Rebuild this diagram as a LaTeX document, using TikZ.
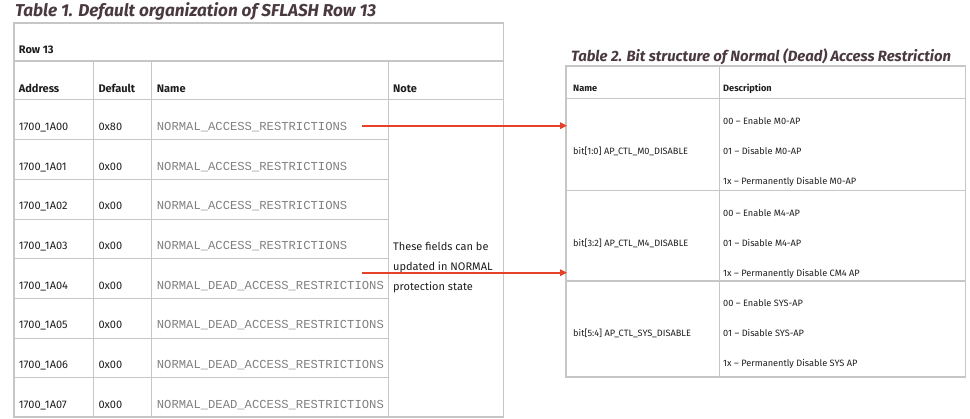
\documentclass[tikz,border=0pt]{standalone}
\usepackage{fontspec}
\setmainfont{Fira Sans}
\newfontfamily\regfont{Liberation Mono}
\usetikzlibrary{arrows.meta}

\definecolor{gridgray}{HTML}{C6C6C6}
\definecolor{titlecol}{HTML}{4A3A40}
\definecolor{arrowred}{HTML}{E5412B}
\definecolor{reggray}{HTML}{808080}
\definecolor{cellink}{HTML}{1E1E1E}

\tikzset{
  gridline/.style={draw=gridgray, line width=1.1pt},
  tabtitle/.style={anchor=base west, inner sep=0pt, text=titlecol},
  cell/.style={anchor=base west, inner sep=0pt, text=cellink, font=\fontsize{11}{13}\selectfont},
  headcell/.style={cell, font=\fontsize{11}{13}\selectfont\bfseries},
  regcell/.style={anchor=base west, inner sep=0pt, text=reggray, font=\fontsize{12.2}{14}\regfont},
  bitcell/.style={anchor=base west, inner sep=0pt, text=cellink, font=\fontsize{9.2}{11}\selectfont},
  bithead/.style={bitcell, font=\fontsize{9.2}{11}\selectfont\bfseries},
  redarrow/.style={draw=arrowred, line width=1.7pt, -{Triangle[length=7pt,width=6.5pt]}}
}

\begin{document}
\begin{tikzpicture}[x=1pt,y=-1pt]
  \useasboundingbox (0,0) rectangle (970,419);

  % Table 1
  \node[tabtitle, font=\fontsize{17.2}{20}\selectfont\bfseries\itshape] (titleA) at (15,16.7)
      {Table 1. Default organization of SFLASH Row 13};

  \draw[gridline] (14,23) rectangle (503.3,417);
  \draw[gridline] (14,61) -- (503.3,61);
  \draw[gridline] (14,99.5) -- (503.3,99.5);
  \foreach \y in {139.3,179.3,219.3,258.7,298.3,338.3,377.3}
    \draw[gridline] (14,\y) -- (388.3,\y);
  \foreach \x in {93.3,151.7,388.3}
    \draw[gridline] (\x,61) -- (\x,417);

  \node[headcell] (rowhead) at (18.7,54) {Row 13};
  \node[headcell] (hAddr) at (18.7,92.7) {Address};
  \node[headcell] (hDef) at (98.3,92.7) {Default};
  \node[headcell] (hName) at (156.7,92.7) {Name};
  \node[headcell] (hNote) at (393,92.7) {Note};

  \foreach \i/\addr/\val/\reg in {
      0/1700\_1A00/0x80/NORMAL\_ACCESS\_RESTRICTIONS,
      1/1700\_1A01/0x00/NORMAL\_ACCESS\_RESTRICTIONS,
      2/1700\_1A02/0x00/NORMAL\_ACCESS\_RESTRICTIONS,
      3/1700\_1A03/0x00/NORMAL\_ACCESS\_RESTRICTIONS,
      4/1700\_1A04/0x00/NORMAL\_DEAD\_ACCESS\_RESTRICTIONS,
      5/1700\_1A05/0x00/NORMAL\_DEAD\_ACCESS\_RESTRICTIONS,
      6/1700\_1A06/0x00/NORMAL\_DEAD\_ACCESS\_RESTRICTIONS,
      7/1700\_1A07/0x00/NORMAL\_DEAD\_ACCESS\_RESTRICTIONS} {
    \node[cell] (addr\i) at (18.7,130.7+39.65*\i) {\addr};
    \node[cell] (def\i) at (98.3,130.7+39.65*\i) {\val};
    \node[regcell] (reg\i) at (156.7,130.7+39.65*\i) {\reg};
  }

  \node[cell] (note1) at (393,250.3) {These fields can be};
  \node[cell] (note2) at (393,270.6) {updated in NORMAL};
  \node[cell] (note3) at (393,290.9) {protection state};

  % Table 2
  \node[tabtitle, font=\fontsize{14.9}{17}\selectfont\bfseries\itshape] (titleB) at (571,61.7)
      {Table 2. Bit structure of Normal (Dead) Access Restriction};

  \draw[gridline] (566,66) rectangle (965.3,377);
  \foreach \y in {98.3,190.7,281}
    \draw[gridline] (566,\y) -- (965.3,\y);
  \draw[gridline] (719.3,66) -- (719.3,377);

  \node[bithead] (bName) at (573,91.7) {Name};
  \node[bithead] (bDesc) at (723,91.7) {Description};

  \foreach \j/\top/\bits/\field/\unit/\last in {
      0/98.3/1:0/M0/M0-AP/M0-AP,
      1/190.7/3:2/M4/M4-AP/CM4 AP,
      2/281/5:4/SYS/SYS-AP/SYS AP} {
    \node[bitcell] (bit\j) at (573,\top+56) {bit[\bits] AP\_CTL\_\field\_DISABLE};
    \node[bitcell] (enA\j) at (723,\top+26) {00 – Enable \unit};
    \node[bitcell] (enB\j) at (723,\top+56) {01 – Disable \unit};
    \node[bitcell] (enC\j) at (723,\top+86) {1x – Permanently Disable \last};
  }

  % arrows between the tables
  \coordinate (srcA) at (362,125.7);
  \coordinate (dstA) at (567,125.7);
  \coordinate (srcB) at (362,272.7);
  \coordinate (dstB) at (567,272.7);
  \draw[redarrow] (srcA) -- (dstA);
  \draw[redarrow] (srcB) -- (dstB);
\end{tikzpicture}
\end{document}
